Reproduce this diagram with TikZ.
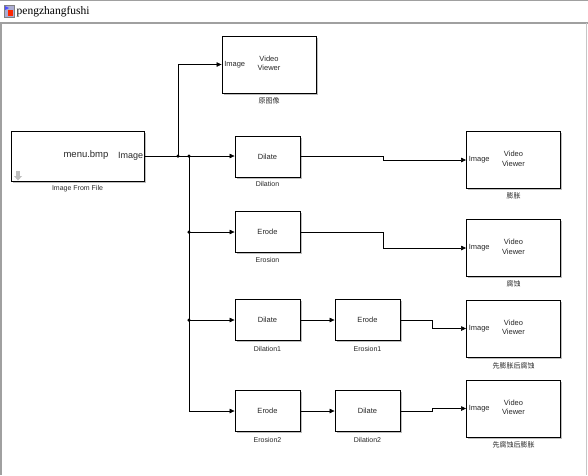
\documentclass[tikz,border=0pt]{standalone}
\usepackage{fontspec}
\setmainfont{Liberation Sans}
\newfontfamily\titlefont{Liberation Serif}
\newfontfamily\cjk{Noto Sans CJK SC}
\usetikzlibrary{arrows.meta,calc}
\definecolor{framegray}{RGB}{160,160,160}
\definecolor{shadowgray}{RGB}{190,190,190}
\definecolor{txt}{RGB}{40,40,40}
\tikzset{
  blk/.style={draw=black, line width=0.9pt, fill=white, inner sep=0pt,
    minimum width=65pt, minimum height=41pt, font=\fontsize{7.5}{9}\selectfont, text=txt,
    preaction={fill=shadowgray, transform canvas={shift={(1.5pt,-1.5pt)}}}},
  vv/.style={blk, minimum width=94pt, minimum height=57pt, align=center},
  src/.style={blk, minimum width=133pt, minimum height=50pt},
  capt/.style={font=\fontsize{7}{8}\selectfont, inner sep=0pt, text=txt},
  ccap/.style={font=\cjk\fontsize{7}{8}\selectfont, inner sep=0pt, text=txt},
  port/.style={font=\fontsize{7.5}{9}\selectfont, inner sep=2.5pt, text=txt},
  wire/.style={draw=black, line width=0.6pt},
  sig/.style={wire, -{Triangle[length=5pt,width=4.5pt]}},
  dotj/.style={circle, fill=black, inner sep=0pt, minimum size=3.5pt}
}
\begin{document}
\begin{tikzpicture}[x=1pt,y=-1pt]
\useasboundingbox (0,0) rectangle (588,475);
\fill[white] (0,0) rectangle (588,475);
% window frame
\draw[framegray, line width=1pt] (0,0.5) -- (588,0.5);
\draw[framegray, line width=2pt] (0,23) -- (588,23);
\draw[framegray, line width=2pt] (1,23) -- (1,475);
\draw[framegray!60, line width=1pt] (586.5,23) -- (586.5,475);
% title icon and text
\fill[blue!30!gray!50] (4,5) rectangle (14,17);
\draw[gray, line width=0.5pt] (4,5) rectangle (14,17);
\fill[red!70!orange] (8,10) rectangle (13,16);
\fill[blue!70] (5,6) -- (9,8) -- (5,10) -- cycle;
\node[anchor=west, inner sep=0pt, font=\titlefont\fontsize{11.5}{13}\selectfont] (title) at (16.5,12) {pengzhangfushi};

% source block
\node[src] (img) at (77.5,156) {};
\node[font=\fontsize{9.5}{11}\selectfont, inner sep=0pt, text=txt] (imgname) at (86,155) {menu.bmp};
\node[anchor=east, font=\fontsize{9}{11}\selectfont, inner sep=1pt, text=txt] (imgport) at (img.east) {Image};
\fill[shadowgray] (16,171) rectangle (20,176);
\fill[shadowgray] (14,176) -- (18,180.5) -- (22,176) -- cycle;
\node[capt, anchor=north] (imgcap) at ($(img.south)+(0,4)$) {Image From File};

% viewers
\node[vv] (vv0) at (269,64.5) {};
\node[vv] (vv1) at (513.5,160) {};
\node[vv] (vv2) at (513.5,248) {};
\node[vv] (vv3) at (513.5,328.5) {};
\node[vv] (vv4) at (513.5,408.5) {};
\foreach \v in {vv0,vv1,vv2,vv3,vv4}{
  \node[port, anchor=west] (\v p) at (\v.west) {Image};
  \node[font=\fontsize{7.5}{9.5}\selectfont, align=center, inner sep=0pt, text=txt] (\v t) at ($(\v.center)+(0,-1)$) {Video\\Viewer};
}
\node[ccap, anchor=north] (c0) at ($(vv0.south)+(0,3.5)$) {原图像};
\node[ccap, anchor=north] (c1) at ($(vv1.south)+(0,3.5)$) {膨胀};
\node[ccap, anchor=north] (c2) at ($(vv2.south)+(0,3.5)$) {腐蚀};
\node[ccap, anchor=north] (c3) at ($(vv3.south)+(0,4.5)$) {先膨胀后腐蚀};
\node[ccap, anchor=north] (c4) at ($(vv4.south)+(0,3.5)$) {先腐蚀后膨胀};

% processing blocks
\node[blk] (dil) at (267.5,156.5) {Dilate};
\node[capt, anchor=north] (dilc) at ($(dil.south)+(0,4)$) {Dilation};
\node[blk] (ero) at (267.5,232) {Erode};
\node[capt, anchor=north] (eroc) at ($(ero.south)+(0,4)$) {Erosion};
\node[blk] (dil1) at (267.5,320) {Dilate};
\node[capt, anchor=north] (dil1c) at ($(dil1.south)+(0,5)$) {Dilation1};
\node[blk] (ero1) at (367.5,320) {Erode};
\node[capt, anchor=north] (ero1c) at ($(ero1.south)+(0,5)$) {Erosion1};
\node[blk] (ero2) at (267.5,411) {Erode};
\node[capt, anchor=north] (ero2c) at ($(ero2.south)+(0,5)$) {Erosion2};
\node[blk] (dil2) at (367.5,411) {Dilate};
\node[capt, anchor=north] (dil2c) at ($(dil2.south)+(0,5)$) {Dilation2};

% junctions
\coordinate (j1) at (178,156);
\coordinate (j2) at (189,156);
\coordinate (j3) at (189,232);
\coordinate (j4) at (189,320);
\coordinate (j5) at (189,411);
\coordinate (m1) at (383,0);
\coordinate (m2) at (432,0);

\draw[wire] (img.east) -- (j2);
\draw[sig] (j1) |- (vv0.west);
\draw[sig] (j2) -- (j2 -| dil.west);
\draw[wire] (j2) -- (j5);
\draw[sig] (j3) -- (ero.west);
\draw[sig] (j4) -- (dil1.west);
\draw[sig] (j5) -- (ero2.west);
\node[dotj] (d1) at (j1) {};
\node[dotj] (d2) at (j2) {};
\node[dotj] (d3) at (j3) {};
\node[dotj] (d4) at (j4) {};

\draw[sig] (dil.east) -- (dil.east -| m1) |- (vv1.west);
\draw[sig] (ero.east) -- (ero.east -| m1) |- (vv2.west);
\draw[sig] (dil1.east) -- (ero1.west);
\draw[sig] (ero1.east) -- (ero1.east -| m2) |- (vv3.west);
\draw[sig] (ero2.east) -- (dil2.west);
\draw[sig] (dil2.east) -- (dil2.east -| m2) |- (vv4.west);
\end{tikzpicture}
\end{document}
